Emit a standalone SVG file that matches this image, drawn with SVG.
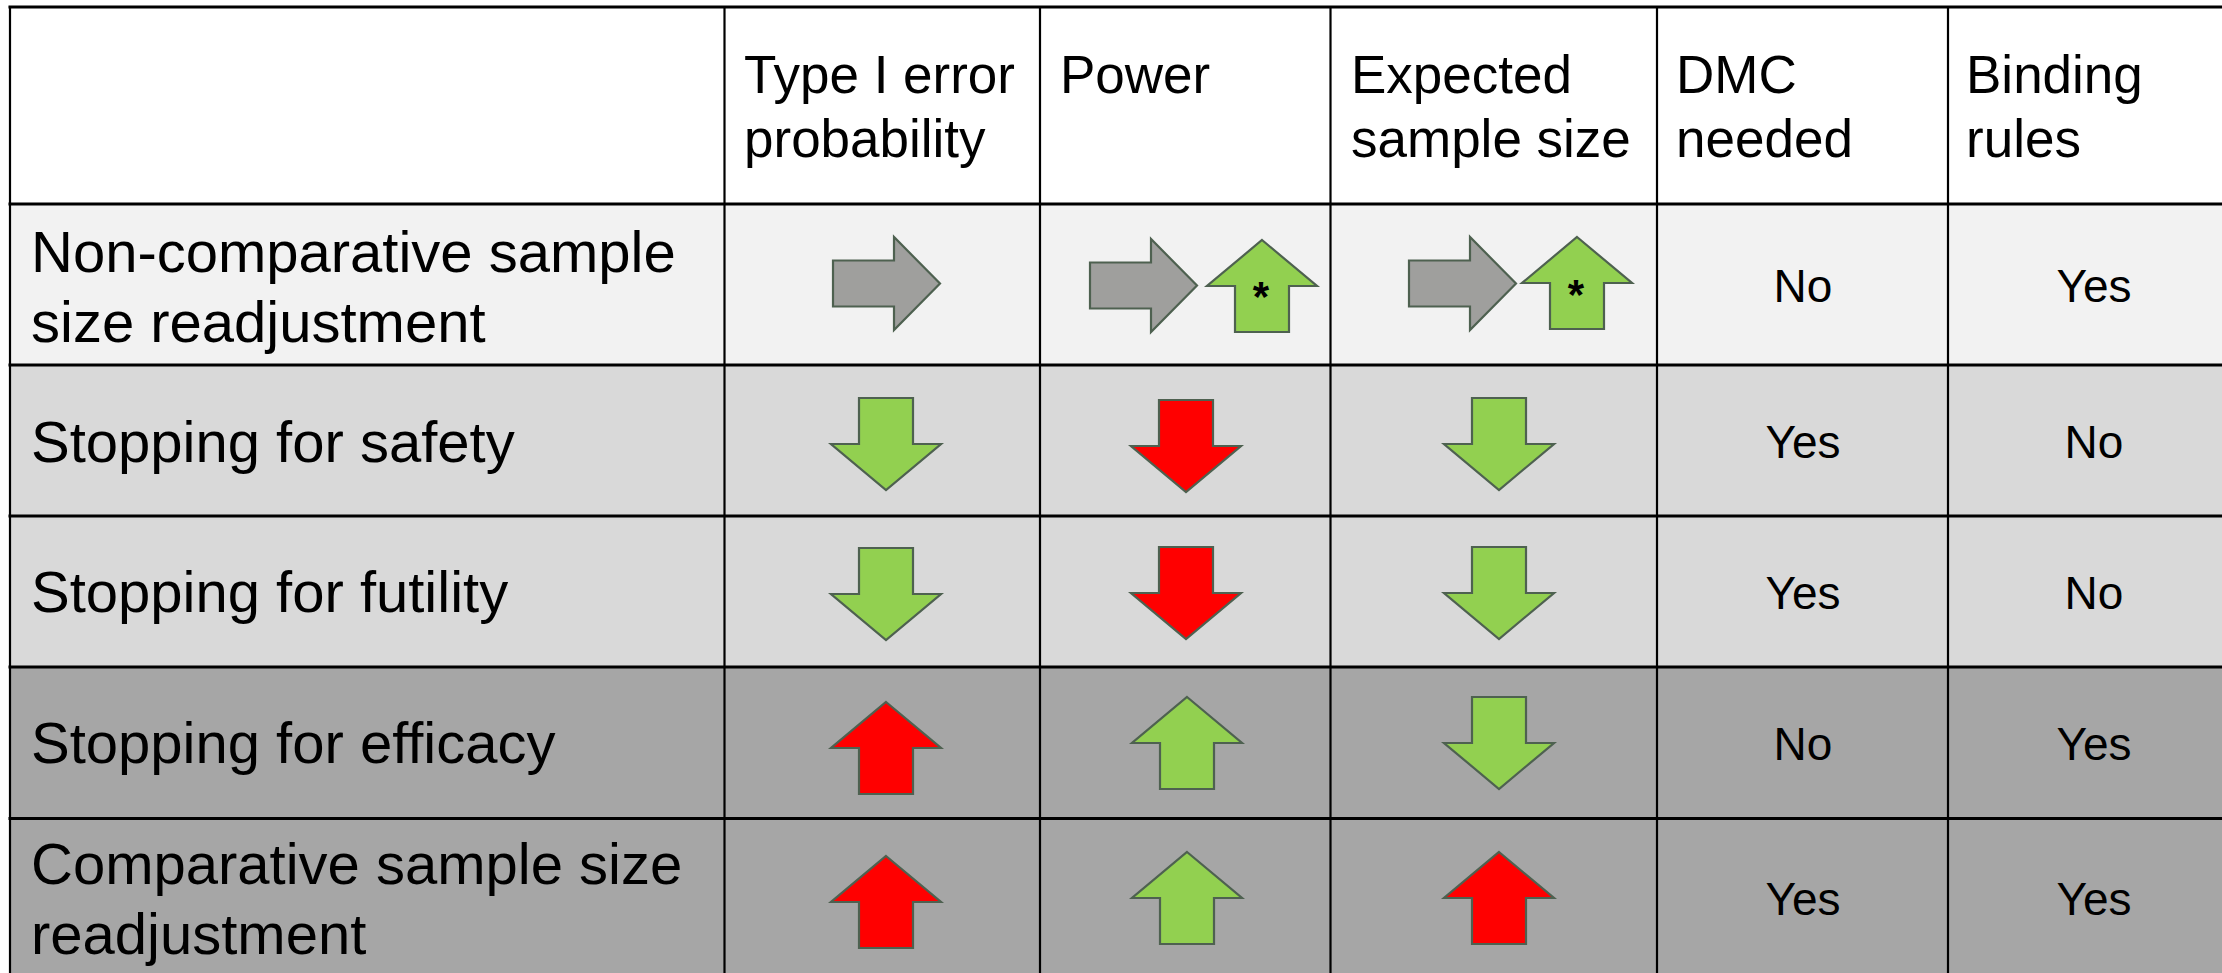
<svg xmlns="http://www.w3.org/2000/svg" xmlns:xlink="http://www.w3.org/1999/xlink" width="2222" height="973" viewBox="0 0 2222 973">
<style>
.hdr{font-family:"Liberation Sans",Arial,sans-serif;font-size:53px;fill:#000}
.lbl{font-family:"Liberation Sans",Arial,sans-serif;font-size:58px;fill:#000}
.val{font-family:"Liberation Sans",Arial,sans-serif;font-size:46px;fill:#000;text-anchor:middle}
.ast{font-family:"Liberation Sans",Arial,sans-serif;font-size:42px;font-weight:bold;fill:#000;text-anchor:middle}
.hl{stroke:#000;stroke-width:3;fill:none}
.vl{stroke:#000;stroke-width:2.2;fill:none}
.gray{fill:#9f9f9d;stroke:#4e6150;stroke-width:2.2;stroke-linejoin:miter}
.green{fill:#92d050;stroke:#4e6150;stroke-width:2.2;stroke-linejoin:miter}
.red{fill:#ff0000;stroke:#4e6150;stroke-width:2.2;stroke-linejoin:miter}
</style>
<defs>
<path id="aRight" d="M0,23.5 H61 V0 L107,46.5 L61,93 V69.5 H0 Z"/>
<path id="aUp" d="M55,0 L110,46 H82 V92 H28 V46 H0 Z"/>
<path id="aDown" d="M28,0 H82 V46 H110 L55,92 L0,46 H28 Z"/>
</defs>
<rect width="2222" height="973" fill="#ffffff"/>
<g id="backgrounds">
<rect x="10" y="7" width="2240" height="197" fill="#ffffff"/>
<rect x="10" y="204" width="2240" height="161" fill="#f2f2f2"/>
<rect x="10" y="365" width="2240" height="302" fill="#d9d9d9"/>
<rect x="10" y="667" width="2240" height="320" fill="#a6a6a6"/>
</g>
<g id="header">
<text class="hdr" x="744" y="93">Type I error</text>
<text class="hdr" x="744" y="157">probability</text>
<text class="hdr" x="1060" y="93">Power</text>
<text class="hdr" x="1351" y="93">Expected</text>
<text class="hdr" x="1351" y="157">sample size</text>
<text class="hdr" x="1676" y="93">DMC</text>
<text class="hdr" x="1676" y="157">needed</text>
<text class="hdr" x="1966" y="93">Binding</text>
<text class="hdr" x="1966" y="157">rules</text>
</g>
<g id="row-noncomparative">
<text class="lbl" x="31" y="272">Non-comparative sample</text>
<text class="lbl" x="31" y="342">size readjustment</text>
<use href="#aRight" xlink:href="#aRight" x="833" y="237" class="gray"/>
<use href="#aRight" xlink:href="#aRight" x="1090" y="239" class="gray"/>
<use href="#aUp" xlink:href="#aUp" x="1207" y="240" class="green"/>
<text class="ast" x="1261" y="311">*</text>
<use href="#aRight" xlink:href="#aRight" x="1409" y="237" class="gray"/>
<use href="#aUp" xlink:href="#aUp" x="1522" y="237" class="green"/>
<text class="ast" x="1576" y="309">*</text>
<text class="val" x="1803" y="301.5">No</text>
<text class="val" x="2094" y="301.5">Yes</text>
</g>
<g id="row-safety">
<text class="lbl" x="31" y="461.5">Stopping for safety</text>
<use href="#aDown" xlink:href="#aDown" x="831" y="398" class="green"/>
<use href="#aDown" xlink:href="#aDown" x="1131" y="400" class="red"/>
<use href="#aDown" xlink:href="#aDown" x="1444" y="398" class="green"/>
<text class="val" x="1803" y="457.5">Yes</text>
<text class="val" x="2094" y="457.5">No</text>
</g>
<g id="row-futility">
<text class="lbl" x="31" y="612">Stopping for futility</text>
<use href="#aDown" xlink:href="#aDown" x="831" y="548" class="green"/>
<use href="#aDown" xlink:href="#aDown" x="1131" y="547" class="red"/>
<use href="#aDown" xlink:href="#aDown" x="1444" y="547" class="green"/>
<text class="val" x="1803" y="608.5">Yes</text>
<text class="val" x="2094" y="608.5">No</text>
</g>
<g id="row-efficacy">
<text class="lbl" x="31" y="763">Stopping for efficacy</text>
<use href="#aUp" xlink:href="#aUp" x="831" y="702" class="red"/>
<use href="#aUp" xlink:href="#aUp" x="1132" y="697" class="green"/>
<use href="#aDown" xlink:href="#aDown" x="1444" y="697" class="green"/>
<text class="val" x="1803" y="759.5">No</text>
<text class="val" x="2094" y="759.5">Yes</text>
</g>
<g id="row-comparative">
<text class="lbl" x="31" y="884">Comparative sample size</text>
<text class="lbl" x="31" y="954">readjustment</text>
<use href="#aUp" xlink:href="#aUp" x="831" y="856" class="red"/>
<use href="#aUp" xlink:href="#aUp" x="1132" y="852" class="green"/>
<use href="#aUp" xlink:href="#aUp" x="1444" y="852" class="red"/>
<text class="val" x="1803" y="915">Yes</text>
<text class="val" x="2094" y="915">Yes</text>
</g>
<g id="gridlines">
<line class="hl" x1="8.5" y1="7" x2="2240" y2="7"/>
<line class="hl" x1="8.5" y1="204" x2="2240" y2="204"/>
<line class="hl" x1="8.5" y1="365" x2="2240" y2="365"/>
<line class="hl" x1="8.5" y1="516" x2="2240" y2="516"/>
<line class="hl" x1="8.5" y1="667" x2="2240" y2="667"/>
<line class="hl" x1="8.5" y1="818.5" x2="2240" y2="818.5"/>
<line class="vl" x1="10" y1="6" x2="10" y2="980"/>
<line class="vl" x1="724.5" y1="6" x2="724.5" y2="980"/>
<line class="vl" x1="1040" y1="6" x2="1040" y2="980"/>
<line class="vl" x1="1330.5" y1="6" x2="1330.5" y2="980"/>
<line class="vl" x1="1657" y1="6" x2="1657" y2="980"/>
<line class="vl" x1="1948" y1="6" x2="1948" y2="980"/>
</g>
</svg>
